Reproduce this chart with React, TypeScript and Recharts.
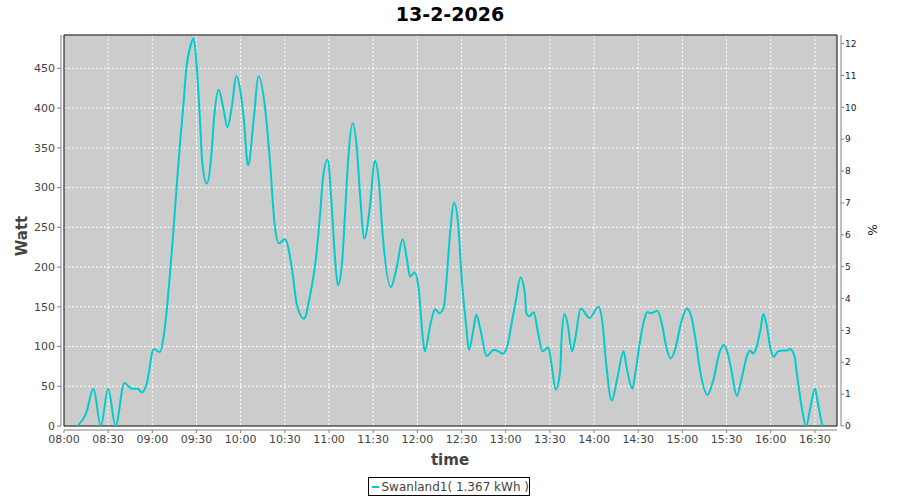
import { CartesianGrid, Line, LineChart, ReferenceArea, XAxis, YAxis } from "recharts";

const title = "13-2-2026";
const seriesName = "Swanland1( 1.367 kWh )";

// sample times (HH:MM) and power in Watt
const times = [
  "08:09", "08:15", "08:20", "08:25", "08:30", "08:35", "08:41", "08:46", "08:50", "08:53",
  "08:56", "09:01", "09:05", "09:08", "09:10", "09:12", "09:14", "09:17", "09:19", "09:21",
  "09:23", "09:26", "09:28", "09:30", "09:32", "09:34", "09:37", "09:40", "09:42", "09:45",
  "09:48", "09:51", "09:54", "09:57", "10:02", "10:05", "10:09", "10:12", "10:17", "10:20",
  "10:23", "10:26", "10:30", "10:35", "10:38", "10:43", "10:47", "10:51", "10:54", "10:56",
  "10:59", "11:02", "11:04", "11:06", "11:09", "11:11", "11:13", "11:16", "11:19", "11:21",
  "11:24", "11:28", "11:31", "11:34", "11:36", "11:42", "11:46", "11:50", "11:53", "11:55",
  "11:58", "12:01", "12:03", "12:05", "12:09", "12:12", "12:15", "12:18", "12:20", "12:22",
  "12:25", "12:28", "12:30", "12:33", "12:35", "12:38", "12:40", "12:43", "12:47", "12:52",
  "12:55", "12:58", "13:01", "13:04", "13:07", "13:10", "13:13", "13:14", "13:16", "13:19",
  "13:22", "13:25", "13:29", "13:31", "13:34", "13:37", "13:38", "13:40", "13:42", "13:45",
  "13:47", "13:51", "13:57", "14:03", "14:06", "14:08", "14:12", "14:16", "14:20", "14:22",
  "14:26", "14:28", "14:31", "14:34", "14:36", "14:39", "14:43", "14:46", "14:49", "14:52",
  "14:55", "14:59", "15:03", "15:06", "15:09", "15:12", "15:17", "15:21", "15:25", "15:28",
  "15:30", "15:33", "15:37", "15:40", "15:44", "15:46", "15:48", "15:50", "15:53", "15:55",
  "15:57", "16:00", "16:02", "16:05", "16:09", "16:11", "16:13", "16:16", "16:18", "16:21",
  "16:24", "16:27", "16:30", "16:32", "16:35",
];

const watts = [
  0, 16, 47, 0, 47, 0, 54, 47, 47, 42,
  52, 97, 93, 117, 150, 192, 238, 314, 360, 402,
  448, 479, 488, 456, 397, 330, 305, 339, 389, 423,
  402, 376, 402, 440, 389, 328, 389, 440, 393, 330,
  255, 230, 235, 196, 154, 135, 163, 209, 268, 314,
  335, 272, 213, 177, 209, 272, 335, 381, 347, 293,
  236, 280, 334, 305, 251, 175, 200, 235, 209, 188,
  193, 171, 125, 94, 129, 147, 142, 150, 188, 238,
  281, 247, 188, 129, 96, 121, 140, 120, 88, 96,
  94, 91, 100, 129, 159, 187, 167, 142, 138, 143,
  117, 94, 99, 79, 46, 70, 112, 141, 129, 94,
  108, 148, 136, 150, 125, 83, 32, 62, 94, 75,
  47, 66, 104, 133, 143, 142, 145, 129, 100, 85,
  96, 129, 148, 138, 108, 70, 39, 58, 91, 102,
  96, 73, 38, 58, 89, 95, 91, 97, 121, 141,
  129, 96, 87, 94, 95, 95, 97, 89, 62, 24,
  0, 24, 47, 29, 0,
];

const timeTicks = [
  "08:00", "08:30", "09:00", "09:30", "10:00", "10:30", "11:00", "11:30", "12:00",
  "12:30", "13:00", "13:30", "14:00", "14:30", "15:00", "15:30", "16:00", "16:30",
];
const wattTicks = [0, 50, 100, 150, 200, 250, 300, 350, 400, 450];
const pctTicks = [0, 1, 2, 3, 4, 5, 6, 7, 8, 9, 10, 11, 12];

const toMin = (s: string) => {
  const [h, m] = s.split(":").map(Number);
  return h * 60 + m;
};
const fmt = (v: number) => {
  const h = Math.floor(v / 60);
  const m = Math.round(v % 60);
  return `${String(h).padStart(2, "0")}:${String(m).padStart(2, "0")}`;
};

const data = times.map((t, i) => ({ t: toMin(t), w: watts[i] }));

const FONT = "'DejaVu Sans', sans-serif";
const LINE = "#00CCCC";

export default function App() {
  return (
    <div
      style={{
        position: "absolute",
        left: 0,
        top: 0,
        width: 900,
        height: 500,
        background: "#fff",
        fontFamily: FONT,
      }}
    >
      <div
        style={{
          position: "absolute",
          top: 3,
          width: 900,
          textAlign: "center",
          fontWeight: "bold",
          fontSize: 19,
          color: "#000",
        }}
      >
        {title}
      </div>

      <LineChart
        width={900}
        height={500}
        data={data}
        margin={{ top: 35, right: 0, bottom: 44, left: 0 }}
      >
        <CartesianGrid
          stroke="#ffffff"
          strokeDasharray="2 2"
          fill="#cccccc"
          fillOpacity={1}
        />
        <XAxis
          dataKey="t"
          type="number"
          domain={[480, 1005]}
          ticks={timeTicks.map(toMin)}
          tickFormatter={fmt}
          allowDataOverflow
          height={30}
          axisLine={{ stroke: "#808080", transform: "translate(0,4)" }}
          tickLine={{ stroke: "#808080", transform: "translate(0,4)" }}
          tickSize={3}
          tick={{ fill: "#444", fontSize: 11, fontFamily: FONT, dy: 4 }}
        />
        <YAxis
          yAxisId={0}
          type="number"
          domain={[0, 492]}
          ticks={wattTicks}
          allowDataOverflow
          width={64}
          axisLine={{ stroke: "#808080", transform: "translate(-3,0)" }}
          tickLine={{ stroke: "#808080", transform: "translate(-3,0)" }}
          tickSize={4}
          tick={{ fill: "#444", fontSize: 11, fontFamily: FONT, dx: -3 }}
        />
        <YAxis
          yAxisId="pct"
          orientation="right"
          type="number"
          domain={[0, 12.27]}
          ticks={pctTicks}
          allowDataOverflow
          width={63}
          axisLine={{ stroke: "#808080", transform: "translate(4,0)" }}
          tickLine={{ stroke: "#808080", transform: "translate(4,0)" }}
          tickSize={3}
          tick={{ fill: "#222", fontSize: 9, fontFamily: FONT, dx: 3 }}
        />
        <Line
          yAxisId={0}
          type="monotone"
          dataKey="w"
          stroke={LINE}
          strokeWidth={2}
          dot={false}
          isAnimationActive={false}
        />
        <ReferenceArea
          yAxisId={0}
          x1={480}
          x2={1005}
          y1={0}
          y2={492}
          fill="none"
          fillOpacity={0}
          stroke="#000"
          strokeWidth={1}
          ifOverflow="visible"
        />
      </LineChart>

      <div
        style={{
          position: "absolute",
          left: 22,
          top: 236,
          transform: "translate(-50%,-50%) rotate(-90deg)",
          fontSize: 15,
          fontWeight: "bold",
          color: "#444",
        }}
      >
        Watt
      </div>
      <div
        style={{
          position: "absolute",
          left: 872,
          top: 230,
          transform: "translate(-50%,-50%) rotate(90deg)",
          fontSize: 12,
          color: "#222",
        }}
      >
        %
      </div>
      <div
        style={{
          position: "absolute",
          left: 450,
          top: 460,
          transform: "translate(-50%,-50%)",
          fontSize: 15,
          fontWeight: "bold",
          color: "#444",
        }}
      >
        time
      </div>
      <div
        style={{
          position: "absolute",
          left: 368,
          top: 477,
          width: 162,
          height: 19,
          border: "1px solid #000",
          boxSizing: "border-box",
          display: "flex",
          alignItems: "center",
          fontSize: 12,
          color: "#444",
          whiteSpace: "nowrap",
        }}
      >
        <span
          style={{
            display: "inline-block",
            width: 16,
            height: 2,
            background: LINE,
            marginLeft: 3,
            marginRight: 2,
          }}
        />
        {seriesName}
      </div>
    </div>
  );
}
